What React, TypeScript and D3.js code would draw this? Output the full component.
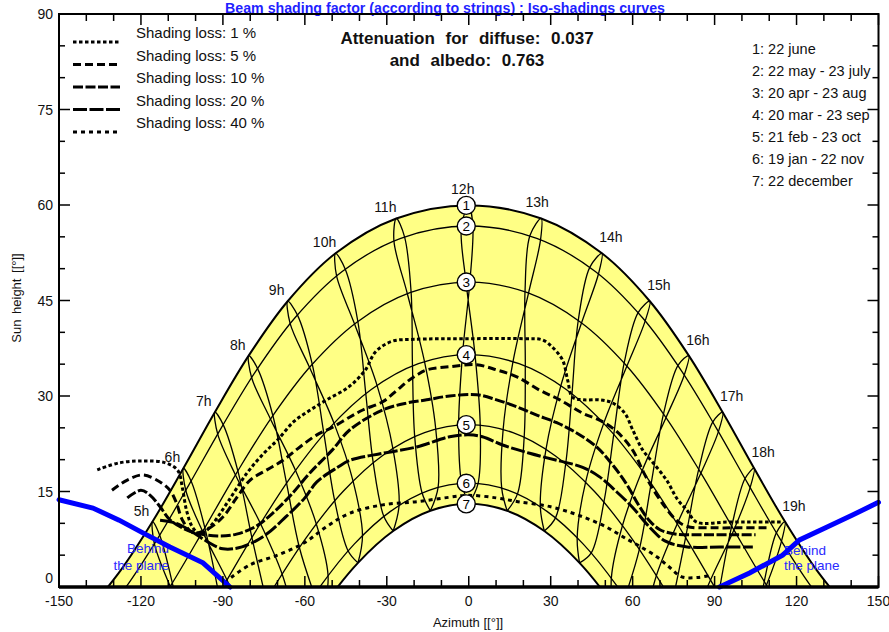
import * as d3 from "d3"

// sun paths (azimuth, height) for the 7 date curves, solar hours
const path1 = [[-139.45, -3.79], [-127.3, 2.69], [-115.75, 10.28], [-104.46, 18.65], [-92.95, 27.45], [-80.56, 36.34], [-66.29, 44.88], [-48.76, 52.41], [-26.52, 57.88], [0, 59.94], [26.52, 57.88], [48.76, 52.41], [66.29, 44.88], [80.56, 36.34], [92.95, 27.45], [104.46, 18.65], [115.75, 10.28], [127.3, 2.69], [139.45, -3.79]]
const path2 = [[-138.07, -6.73], [-125.63, -0.09], [-113.84, 7.65], [-102.34, 16.12], [-90.64, 24.96], [-78.06, 33.83], [-63.69, 42.25], [-46.33, 49.56], [-24.9, 54.77], [0, 56.7], [24.9, 54.77], [46.33, 49.56], [63.69, 42.25], [78.06, 33.83], [90.64, 24.96], [102.34, 16.12], [113.84, 7.65], [125.63, -0.09], [138.07, -6.73]]
const path3 = [[-121.07, -7.62], [-108.76, 0.46], [-96.84, 9.14], [-84.79, 18.05], [-71.96, 26.77], [-57.61, 34.83], [-40.95, 41.59], [-21.52, 46.23], [0, 47.9], [21.52, 46.23], [40.95, 41.59], [57.61, 34.83], [71.96, 26.77], [84.79, 18.05], [96.84, 9.14], [108.76, 0.46], [121.07, -7.62]]
const path4 = [[-102.16, -8.86], [-90, 0], [-77.84, 8.86], [-65.1, 17.3], [-51.21, 24.87], [-35.69, 31.01], [-18.43, 35.07], [0, 36.5], [18.43, 35.07], [35.69, 31.01], [51.21, 24.87], [65.1, 17.3], [77.84, 8.86], [90, 0], [102.16, -8.86]]
const path5 = [[-83.4, -8.82], [-71.47, -0.13], [-59.14, 7.96], [-45.95, 15.04], [-31.63, 20.63], [-16.18, 24.24], [0, 25.5], [16.18, 24.24], [31.63, 20.63], [45.95, 15.04], [59.14, 7.96], [71.47, -0.13], [83.4, -8.82]]
const path6 = [[-66.16, -7.65], [-54.37, 0.09], [-41.93, 6.73], [-28.65, 11.88], [-14.58, 15.17], [0, 16.3], [14.58, 15.17], [28.65, 11.88], [41.93, 6.73], [54.37, 0.09], [66.16, -7.65]]
const path7 = [[-64.25, -10.28], [-52.7, -2.69], [-40.55, 3.79], [-27.66, 8.79], [-14.05, 11.97], [0, 13.06], [14.05, 11.97], [27.66, 8.79], [40.55, 3.79], [52.7, -2.69], [64.25, -10.28]]
const sunPaths = [path1, path2, path3, path4, path5, path6, path7]

const dateLabels = ["1: 22 june", "2: 22 may - 23 july", "3: 20 apr - 23 aug", "4: 20 mar - 23 sep", "5: 21 feb - 23 oct", "6: 19 jan - 22 nov", "7: 22 december"]

// hour lines (legal time), winter -> june -> winter
const hourLines = [
  { hour: 5, pts: [[-103.7, -9.9], [-108.5, 0.6], [-113.1, 8.1], [-115.75, 10.28], [-115.1, 6.8], [-109.3, 0.1], [-100.6, -7.8]] },
  { hour: 6, pts: [[-91.5, -1.1], [-96.6, 9.3], [-101.6, 16.6], [-104.46, 18.65], [-103.6, 15.2], [-97.4, 8.7], [-88.5, 1.1], [-80.3, -6.5]] },
  { hour: 7, pts: [[-74.2, -2.0], [-79.4, 7.8], [-84.5, 18.2], [-89.9, 25.5], [-92.95, 27.45], [-91.9, 24.0], [-85.4, 17.6], [-76.3, 10.0], [-68.3, 2.0], [-63.4, -5.8]] },
  { hour: 8, pts: [[-56.5, -1.2], [-62.0, 6.2], [-66.7, 16.3], [-71.7, 26.9], [-77.3, 34.3], [-80.56, 36.34], [-79.5, 32.9], [-72.6, 26.4], [-63.4, 18.3], [-55.8, 9.9], [-51.5, 1.8], [-52.7, -2.69]] },
  { hour: 9, pts: [[-40.55, 3.79], [-44.2, 5.7], [-49.1, 13.6], [-53.0, 24.0], [-57.3, 35.0], [-62.7, 42.7], [-66.29, 44.88], [-65.4, 41.4], [-58.3, 34.5], [-49.3, 25.7], [-42.4, 16.7], [-38.9, 8.1], [-40.55, 3.79]] },
  { hour: 10, pts: [[-27.66, 8.79], [-31.1, 11.1], [-35.0, 19.6], [-37.7, 30.4], [-40.6, 41.7], [-45.2, 49.9], [-48.76, 52.41], [-48.4, 48.9], [-41.8, 41.3], [-33.6, 31.7], [-27.8, 21.8], [-25.5, 12.9], [-27.66, 8.79]] },
  { hour: 11, pts: [[-14.05, 11.97], [-17.1, 14.8], [-19.8, 23.7], [-20.6, 34.7], [-21.1, 46.3], [-23.5, 55.0], [-26.52, 57.88], [-27.4, 54.4], [-22.5, 46.1], [-16.2, 35.4], [-12.1, 24.9], [-11.2, 15.7], [-14.05, 11.97]] },
  { hour: 12, pts: [[0, 13.06], [-2.6, 16.3], [-3.7, 25.4], [-2.3, 36.45], [0.4, 47.9], [1.5, 56.7], [0, 59.94], [-2.7, 56.6], [-1.0, 47.9], [2.3, 36.45], [4.2, 25.4], [3.4, 16.24], [0, 13.06]] },
  { hour: 13, pts: [[14.05, 11.97], [12.05, 15.56], [12.6, 24.8], [16.2, 35.4], [21.9, 46.2], [26.3, 54.6], [26.52, 57.88], [22.4, 55.2], [20.6, 46.4], [20.7, 34.7], [20.3, 23.6], [17.9, 14.7], [14.05, 11.97]] },
  { hour: 14, pts: [[27.66, 8.79], [26.2, 12.6], [28.3, 21.7], [33.7, 31.6], [41.3, 41.5], [47.5, 49.2], [48.76, 52.41], [44.3, 50.2], [40.1, 41.9], [37.8, 30.4], [35.5, 19.4], [31.8, 10.9], [27.66, 8.79]] },
  { hour: 15, pts: [[40.55, 3.79], [39.7, 7.8], [42.8, 16.5], [49.4, 25.7], [57.9, 34.7], [64.6, 41.8], [66.29, 44.88], [62.0, 43.1], [56.9, 35.2], [53.1, 24.0], [49.5, 13.4], [44.9, 5.4], [40.55, 3.79]] },
  { hour: 16, pts: [[52.7, -2.69], [52.2, 1.4], [56.3, 9.7], [63.5, 18.3], [72.2, 26.6], [78.9, 33.3], [80.56, 36.34], [76.6, 34.8], [71.3, 27.2], [66.8, 16.3], [62.5, 6.0], [57.2, -1.6]] },
  { hour: 17, pts: [[64.1, -6.2], [68.7, 1.8], [76.3, 9.9], [85.0, 17.9], [91.4, 24.4], [92.95, 27.45], [89.3, 25.9], [84.2, 18.5], [79.4, 7.8], [74.6, -2.3]] },
  { hour: 18, pts: [[80.7, -6.8], [88.5, 1.1], [97.1, 9.0], [103.0, 15.6], [104.46, 18.65], [101.1, 17.0], [96.3, 9.6], [91.5, -1.1]] },
  { hour: 19, pts: [[100.7, -7.8], [109.0, 0.3], [114.5, 7.2], [115.75, 10.28], [112.6, 8.5], [108.2, 0.9], [103.7, -9.9]] },
]

// iso-shading curves
const loss1 = [[-136, 18.4], [-128, 19.5], [-119, 19.8], [-111, 19.5], [-106.5, 18.3], [-104.8, 15.5], [-103.3, 12], [-101, 9.3], [-98, 8.3], [-94, 9.8], [-88, 13.5], [-81, 18], [-75, 21], [-70, 23.1], [-64, 26], [-58, 27.8], [-52, 29.4], [-44, 31.4], [-38, 34], [-34, 37], [-28, 38.6], [-20, 38.9], [0, 39], [20, 39], [27, 38.8], [31, 37.5], [34.4, 35.6], [36.2, 32.5], [38, 29.8], [42, 29.4], [48, 29.4], [52.7, 28.9], [57.1, 27.3], [60, 24.7], [63.7, 21.5], [67.3, 19.6], [72.4, 16.8], [76.5, 13.7], [79.8, 12.1], [83.4, 10.2], [95, 10.2], [105, 10.2], [115, 10.2]]
const loss5 = [[-130.6, 15.2], [-125, 16.8], [-119.3, 17.6], [-113, 16.5], [-109.4, 15.2], [-107, 13.2], [-104.8, 10.5], [-101, 8.5], [-96, 9], [-90, 11], [-85, 14], [-80, 16.8], [-73.9, 18.4], [-68, 19.9], [-61.8, 22], [-55.6, 23.9], [-49.8, 25.1], [-43.5, 26.7], [-38.8, 27.8], [-31.5, 29.1], [-26.3, 30.9], [-22.7, 32.2], [-19, 33.3], [-15.4, 34.1], [-7, 34.6], [2.9, 34.9], [10.2, 34.1], [17.6, 33], [26, 30.9], [33.3, 29.4], [41.7, 27.3], [47.9, 26.2], [54, 24.5], [60, 21.5], [64, 18], [68, 15], [72, 12.5], [76, 10.5], [80, 9.5], [90, 9.3], [100, 9.3], [109, 9.3]]
const loss10 = [[-125, 14], [-120, 15.2], [-116.6, 14.4], [-113, 12.6], [-109.5, 10.6], [-105, 9.3], [-100, 8.5], [-92, 8], [-85, 8.3], [-78, 9.5], [-72, 11.5], [-65, 14.5], [-58, 18], [-50, 21.5], [-43.5, 24.7], [-31.5, 27.8], [-22.7, 28.9], [-15.4, 29.4], [-7, 30], [2.9, 30.2], [10.2, 29.4], [17.6, 28.3], [24.9, 27], [32.2, 25.8], [39.5, 24.2], [46.8, 22], [53, 19], [58, 16], [62, 13], [66, 10.5], [70, 9], [76, 8.3], [85, 8.2], [95, 8.2], [105, 8.2]]
const loss20 = [[-113, 10.5], [-107, 10], [-101, 8.6], [-96, 7.2], [-90, 6], [-83, 6.3], [-75, 8], [-67, 11], [-60, 14], [-55.6, 16.5], [-48, 18.8], [-43.5, 19.9], [-31.5, 21], [-19, 22], [-7, 23.6], [0, 23.9], [5, 23.6], [12.4, 22.3], [22.3, 21], [32.2, 19.9], [41.7, 18.8], [47.9, 17.3], [54, 15], [60, 12.5], [66, 9.5], [72, 7.2], [80, 6.3], [92, 6.3], [104, 6.3]]
const loss40 = [[-87, 1.5], [-80, 3.5], [-70, 5], [-60, 7], [-52, 9.5], [-43.5, 11.6], [-31.5, 12.9], [-19, 13.4], [-7, 14.1], [0, 14.4], [10, 14], [18, 13.4], [30, 12.6], [40, 11.3], [50, 9.5], [58, 7.5], [63, 6.3], [69, 4.7], [73.5, 3.1], [78, 1.6], [84, 1.5], [89, 1.9]]
const isoCurves = [
  { label: "Shading loss: 1 %", pts: loss1, dash: "3.5,2.5" },
  { label: "Shading loss: 5 %", pts: loss5, dash: "8,4" },
  { label: "Shading loss: 10 %", pts: loss10, dash: "10,2.5" },
  { label: "Shading loss: 20 %", pts: loss20, dash: "14,2.5" },
  { label: "Shading loss: 40 %", pts: loss40, dash: "4,4" },
]

// "behind the plane" limits
const behindLeft = [[-150, 13.7], [-137.6, 12.4], [-128, 10.5], [-119.3, 8.5], [-109.4, 6.3], [-97.3, 3.8], [-87.4, 0]]
const behindRight = [[91.8, 0], [102.8, 2.2], [114.9, 5], [121.1, 7.4], [131, 9.4], [140.5, 11.3], [150, 13.3]]

const xTicks = d3.range(-150, 151, 10)
const yTicks = d3.range(0, 91, 5)

const FONT = "'Liberation Sans', Arial, sans-serif"

export default function App() {
  const x = d3.scaleLinear().domain([-150, 150]).range([59, 878.5])
  const y = d3.scaleLinear().domain([0, 90]).range([587, 14])

  const smooth = d3.line<number[]>().x(d => x(d[0])).y(d => y(d[1])).curve(d3.curveCatmullRom.alpha(0.5))
  const straight = d3.line<number[]>().x(d => x(d[0])).y(d => y(d[1]))

  const fillPath = smooth(path1) + smooth(path7.slice().reverse())!.replace(/^M/, "L") + "Z"

  const [x0, x1] = x.range()
  const [y0, y1] = y.range()

  return (
    <svg width={889} height={632} style={{ position: "absolute", left: 0, top: 0, fontFamily: FONT, background: "#fff" }}>
      <defs>
        <clipPath id="plot">
          <rect x={x0} y={y1} width={x1 - x0} height={y0 - y1} />
        </clipPath>
      </defs>

      <text x={445} y={13} textAnchor="middle" fill="#1f1fff" fontWeight="bold" fontSize={14.2}>
        Beam shading factor (according to strings) : Iso-shadings curves
      </text>

      <g clipPath="url(#plot)">
        <path d={fillPath} fill="#ffff85" stroke="none" />
        {sunPaths.map((p, i) => (
          <path key={i} d={smooth(p)!} fill="none" stroke="#000" strokeWidth={i === 0 || i === 6 ? 2 : 1.3} />
        ))}
        {hourLines.map(h => (
          <path key={h.hour} d={smooth(h.pts)!} fill="none" stroke="#000" strokeWidth={1.3} />
        ))}
      </g>

      {/* hour labels next to the june end of each hour line */}
      {hourLines.map(h => {
        const top = d3.greatest(h.pts, d => d[1])!
        const dx = h.hour < 12 ? -11 : h.hour === 12 ? -6 : h.hour === 13 ? -4 : 9
        const dy = h.hour < 12 ? -11 : -16
        return (
          <text key={h.hour} x={x(top[0]) + dx} y={y(top[1]) + dy + 5} textAnchor="middle" fontSize={14} fill="#111">
            {h.hour}h
          </text>
        )
      })}

      {/* iso-shading curves */}
      {isoCurves.map(c => (
        <path key={c.label} d={smooth(c.pts)!} fill="none" stroke="#000" strokeWidth={3} strokeDasharray={c.dash} />
      ))}

      {/* date markers at noon */}
      {sunPaths.map((p, i) => {
        const top = d3.greatest(p, d => d[1])!
        return (
          <g key={i} transform={`translate(${x(top[0]) - 2.5},${y(top[1])})`}>
            <circle r={9} fill="#fff" stroke="#000" strokeWidth={1.4} />
            <text y={5} textAnchor="middle" fontSize={13.5} fill="#000">{i + 1}</text>
          </g>
        )
      })}

      {/* behind the plane */}
      <text x={169} y={553} textAnchor="end" fontSize={13.5} fill="#2a2aff">Behind</text>
      <text x={169} y={570} textAnchor="end" fontSize={13.5} fill="#2a2aff">the plane</text>
      <text x={784} y={555} fontSize={13.5} fill="#2a2aff">Behind</text>
      <text x={784} y={570} fontSize={13.5} fill="#2a2aff">the plane</text>
      <path d={straight(behindLeft)!} fill="none" stroke="#0000ff" strokeWidth={5} strokeLinecap="round" />
      <path d={straight(behindRight)!} fill="none" stroke="#0000ff" strokeWidth={5} strokeLinecap="round" />

      {/* frame and ticks */}
      <rect x={x0} y={y1} width={x1 - x0} height={y0 - y1} fill="none" stroke="#000" strokeWidth={2} />
      <line x1={x0} x2={x1} y1={y0} y2={y0} stroke="#000" strokeWidth={3.5} />
      {xTicks.map(v => {
        const len = v % 30 === 0 ? 11 : 7
        return (
          <g key={v}>
            <line x1={x(v)} x2={x(v)} y1={y0} y2={y0 - len} stroke="#000" strokeWidth={1.5} />
            <line x1={x(v)} x2={x(v)} y1={y1} y2={y1 + len} stroke="#000" strokeWidth={1.5} />
            {v % 30 === 0 && (
              <text x={x(v)} y={606} textAnchor="middle" fontSize={14} fill="#111">{v}</text>
            )}
          </g>
        )
      })}
      {yTicks.map(v => {
        const len = v % 15 === 0 ? 11 : 6
        return (
          <g key={v}>
            <line x1={x0} x2={x0 + len} y1={y(v)} y2={y(v)} stroke="#000" strokeWidth={1.5} />
            <line x1={x1} x2={x1 - len} y1={y(v)} y2={y(v)} stroke="#000" strokeWidth={1.5} />
            {v % 15 === 0 && (
              <text x={53} y={v === 0 ? 583 : y(v) + 5} textAnchor="end" fontSize={14} fill="#111">{v}</text>
            )}
          </g>
        )
      })}

      <text x={468} y={627} textAnchor="middle" fontSize={13} fill="#111">Azimuth [[°]]</text>
      <text transform="translate(21,298) rotate(-90)" textAnchor="middle" fontSize={13} fill="#111" wordSpacing={2}>Sun height [[°]]</text>

      {/* legends */}
      {isoCurves.map((c, i) => (
        <g key={c.label}>
          <line x1={73} x2={120} y1={42 + i * 22.5} y2={42 + i * 22.5} stroke="#000" strokeWidth={3} strokeDasharray={c.dash} />
          <text x={136} y={38 + i * 22.5} fontSize={15} fill="#111">{c.label}</text>
        </g>
      ))}
      <text x={467} y={44} textAnchor="middle" fontSize={17} fontWeight="bold" wordSpacing={6} fill="#111">Attenuation for diffuse: 0.037</text>
      <text x={467} y={66} textAnchor="middle" fontSize={17} fontWeight="bold" wordSpacing={6} fill="#111">and albedo: 0.763</text>
      {dateLabels.map((t, i) => (
        <text key={t} x={752} y={54 + i * 22} fontSize={14.5} fill="#111">{t}</text>
      ))}
    </svg>
  )
}
